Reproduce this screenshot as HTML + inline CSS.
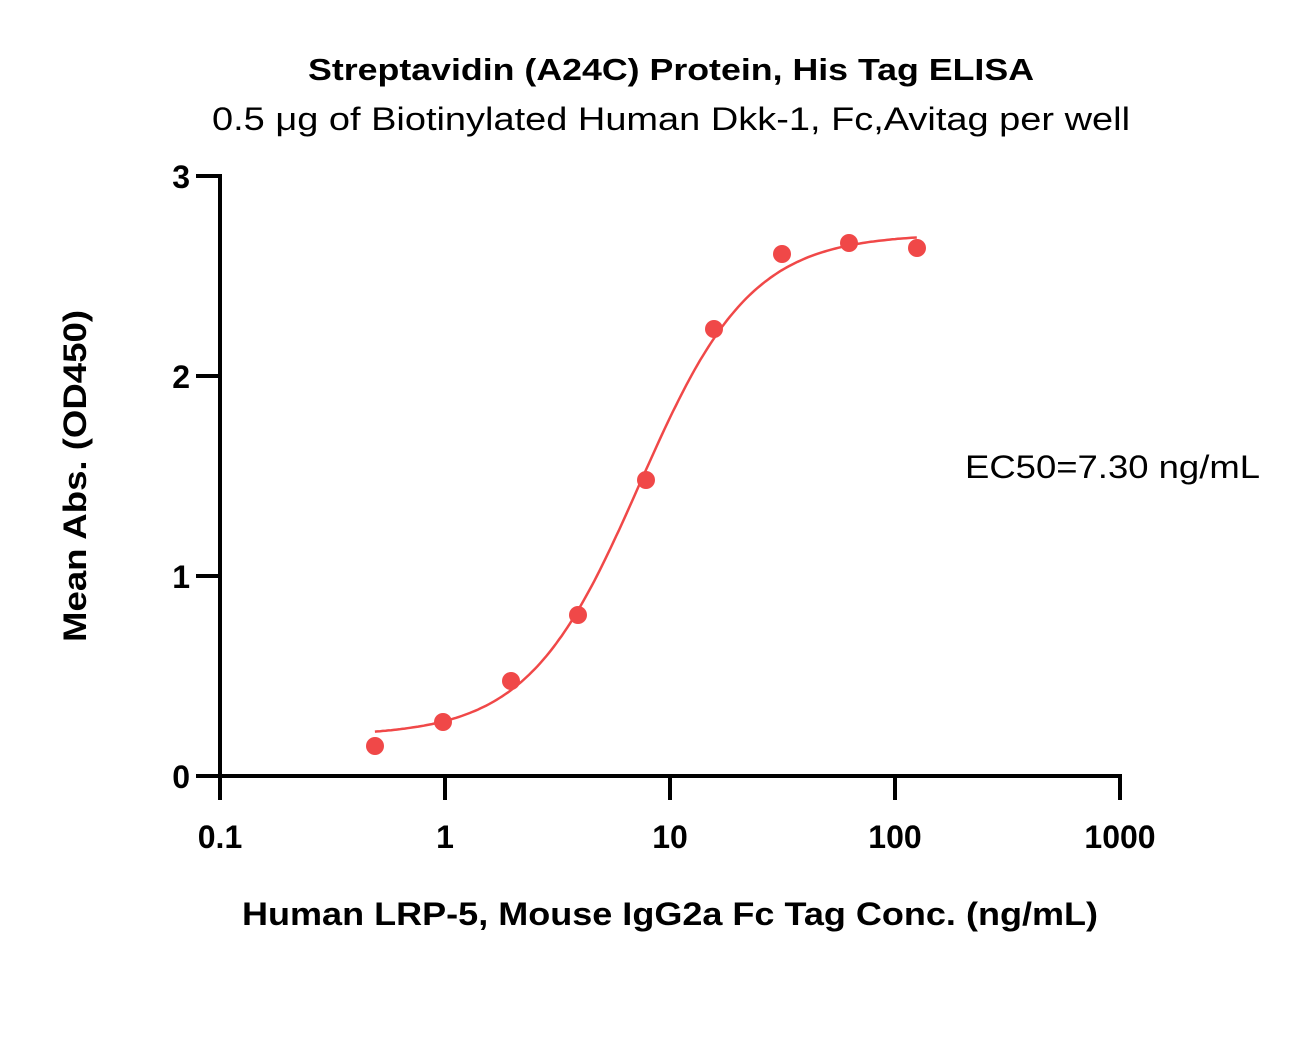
<!DOCTYPE html>
<html><head><meta charset="utf-8"><style>
html,body{margin:0;padding:0;background:#fff;}
svg text{font-family:"Liberation Sans",sans-serif;fill:#000;}
</style></head><body>
<svg width="1304" height="1032" viewBox="0 0 1304 1032" xmlns="http://www.w3.org/2000/svg">
<text x="308" y="80" font-size="31" font-weight="bold" textLength="726" lengthAdjust="spacingAndGlyphs">Streptavidin (A24C) Protein, His Tag ELISA</text>
<text x="212" y="130" font-size="32" textLength="918" lengthAdjust="spacingAndGlyphs">0.5 μg of Biotinylated Human Dkk-1, Fc,Avitag per well</text>
<g stroke="#000" stroke-width="4" fill="none">
<line x1="220" y1="174" x2="220" y2="778"/>
<line x1="218" y1="776" x2="1122" y2="776"/>
<line x1="196" y1="176" x2="220" y2="176"/>
<line x1="196" y1="376" x2="220" y2="376"/>
<line x1="196" y1="576" x2="220" y2="576"/>
<line x1="196" y1="776" x2="220" y2="776"/>
<line x1="220" y1="776" x2="220" y2="800"/>
<line x1="445" y1="776" x2="445" y2="800"/>
<line x1="670" y1="776" x2="670" y2="800"/>
<line x1="895" y1="776" x2="895" y2="800"/>
<line x1="1120" y1="776" x2="1120" y2="800"/>
</g>
<g font-size="32" font-weight="bold" text-anchor="end">
<text x="190" y="188">3</text><text x="190" y="388">2</text><text x="190" y="588">1</text><text x="190" y="788">0</text>
</g>
<g font-size="32" font-weight="bold" text-anchor="middle">
<text x="220" y="848">0.1</text><text x="445" y="848">1</text><text x="670" y="848">10</text><text x="895" y="848">100</text><text x="1120" y="848">1000</text>
</g>
<text x="242" y="925" font-size="32" font-weight="bold" textLength="856" lengthAdjust="spacingAndGlyphs">Human LRP-5, Mouse IgG2a Fc Tag Conc. (ng/mL)</text>
<text transform="translate(86,642) rotate(-90)" font-size="32" font-weight="bold" textLength="332" lengthAdjust="spacingAndGlyphs">Mean Abs. (OD450)</text>
<text x="965" y="478" font-size="32" textLength="295" lengthAdjust="spacingAndGlyphs">EC50=7.30 ng/mL</text>
<path id="curve" fill="none" stroke="#f04848" stroke-width="2.5"/>
<g fill="#f04848">
<circle cx="375" cy="746" r="9"/><circle cx="443" cy="722" r="9"/><circle cx="511" cy="681" r="9"/>
<circle cx="578" cy="615" r="9"/><circle cx="646" cy="480" r="9"/><circle cx="714" cy="329" r="9"/>
<circle cx="782" cy="254" r="9"/><circle cx="849" cy="243" r="9"/><circle cx="917" cy="248" r="9"/>
</g>
<script>
var d="";for(var i=0;i<=200;i++){var lx=Math.log10(0.488)+i*(Math.log10(125)-Math.log10(0.488))/200;var x=Math.pow(10,lx);
var y=0.2+(2.71-0.2)/(1+Math.pow(7.3/x,1.75));var px=220+(lx+1)*225,py=776-y*200;d+=(i?"L":"M")+px.toFixed(1)+","+py.toFixed(1);}
document.getElementById("curve").setAttribute("d",d);
</script>
</svg>
</body></html>
